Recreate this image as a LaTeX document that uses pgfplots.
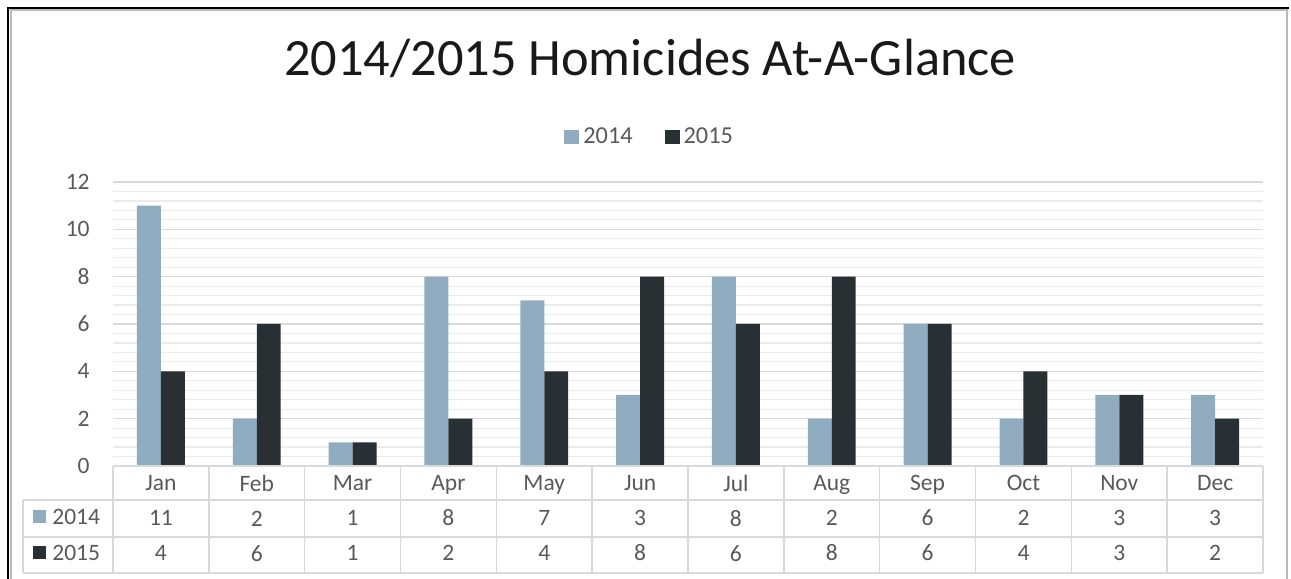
\documentclass[border=0pt]{standalone}
\usepackage{pgfplots}
\pgfplotsset{compat=1.18}
\usepackage{fontspec}
\setmainfont{Carlito}
\definecolor{cA}{HTML}{8FACC1}
\definecolor{cB}{HTML}{293033}
\definecolor{txt}{HTML}{595959}
\definecolor{grd}{HTML}{D9D9D9}
\definecolor{grdm}{HTML}{ECECEC}
\begin{document}
\begin{tikzpicture}[x=0.5bp,y=0.5bp]
\useasboundingbox (0,0) rectangle (1291,579);
% outer frame
\draw[gray!55, line width=1bp] (10.5,-5) -- (10.5,568.5) -- (1287,568.5) -- (1287,-5);
\draw[black, line width=1.2bp] (8,-5) -- (8,571) -- (1289,571);
% title
\node[font=\fontsize{26.3}{30}\selectfont, text=black!90] at (650,521) {2014/2015 Homicides At-A-Glance};
\begin{axis}[
  at={(56.5bp,56.5bp)}, anchor=south west,
  width=575bp, height=142bp, scale only axis,
  ybar, bar width=0.25,
  xmin=-0.5, xmax=11.5, ymin=0, ymax=12,
  xtick={0,...,11},
  xticklabels={{Jan\\11\\4},{Feb\\2\\6},{Mar\\1\\1},{Apr\\8\\2},{May\\7\\4},{Jun\\3\\8},{Jul\\8\\6},{Aug\\2\\8},{Sep\\6\\6},{Oct\\2\\4},{Nov\\3\\3},{Dec\\3\\2}},
  xticklabel style={align=center, anchor=north, inner sep=0pt, yshift=-4.5bp,
     font=\fontsize{11.8}{17.5}\selectfont, text=txt},
  ytick={0,2,...,12}, minor y tick num=4,
  ymajorgrids, yminorgrids,
  major grid style={draw=grd, line width=0.8bp},
  minor grid style={draw=grdm, line width=0.6bp},
  axis line style={draw=none},
  major tick length=0pt, minor tick length=0pt,
  yticklabel style={font=\fontsize{11.8}{14}\selectfont, text=txt, anchor=east, inner sep=0pt, xshift=-11.5bp},
  /pgf/number format/assume math mode=true,
  legend columns=2,
  legend style={at={(0.4675,1.158)}, anchor=center, draw=none, fill=none,
    font=\fontsize{12.2}{13}\selectfont, text=txt,
    /tikz/every even column/.append style={column sep=14bp}},
  clip=false,
]
\addplot[fill=cA, draw=none, bar shift=-0.125,
  legend image code/.code={\fill[cA] (0bp,-3.5bp) rectangle (7.5bp,3.5bp);}]
  coordinates {(0,11) (1,2) (2,1) (3,8) (4,7) (5,3) (6,8) (7,2) (8,6) (9,2) (10,3) (11,3)};
\addplot[fill=cB, draw=none, bar shift=0.125,
  legend image code/.code={\fill[cB] (0bp,-3.5bp) rectangle (7.5bp,3.5bp);}]
  coordinates {(0,4) (1,6) (2,1) (3,2) (4,4) (5,8) (6,6) (7,8) (8,6) (9,4) (10,3) (11,2)};
\legend{2014,2015}
\end{axis}
% data table grid
\begin{scope}[draw=grd, line width=0.8bp]
\draw (113,113) -- (1263,113);
\draw (23,79) -- (1263,79);
\draw (23,42) -- (1263,42);
\draw (23,6) -- (1263,6);
\draw (23,79) -- (23,6);
\foreach \k in {0,...,12} {\draw ({113+\k*95.8333},113) -- ({113+\k*95.8333},6);}
\end{scope}
\fill[cA] (33,56) rectangle (46,69);
\fill[cB] (33,20) rectangle (46,33);
\node[anchor=west, inner sep=0pt, font=\fontsize{11.8}{14}\selectfont, text=txt] at (52,62) {2014};
\node[anchor=west, inner sep=0pt, font=\fontsize{11.8}{14}\selectfont, text=txt] at (52,26) {2015};
\end{tikzpicture}
\end{document}
